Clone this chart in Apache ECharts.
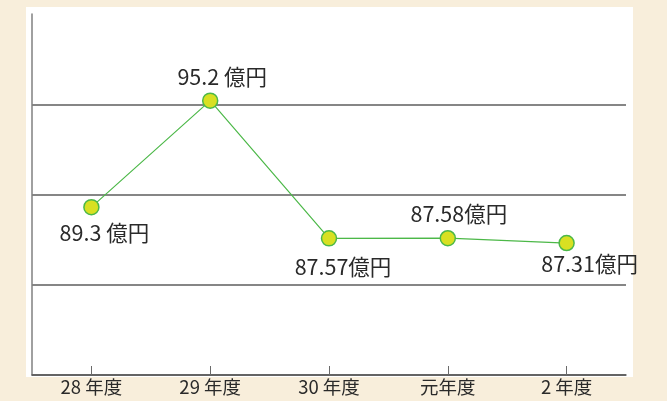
<!DOCTYPE html>
<html><head><meta charset="utf-8">
<script src="https://cdn.jsdelivr.net/npm/echarts@6/dist/echarts.min.js"></script>
<style>html,body{margin:0;padding:0;background:#f8eedb;}#c{width:667px;height:401px;}</style>
</head><body><div id="c"></div>
<script>
const categories = ['28 年度', '29 年度', '30 年度', '元年度', '2 年度'];
const values = [89.3, 95.2, 87.57, 87.58, 87.31];
const valueLabels = ['89.3 億円', '95.2 億円', '87.57億円', '87.58億円', '87.31億円'];
const yMin = 80, yMax = 100, yStep = 5;

const labelOffsets = [[13, 26], [12, -24], [14, 28], [11, -24], [23, 21]];
const font = '"Noto Sans CJK JP", "Noto Sans", sans-serif';

const chart = echarts.init(document.getElementById('c'), null, {renderer: 'canvas'});
chart.setOption({
  backgroundColor: '#f8eedb',
  animation: false,
  graphic: [{type: 'rect', z: -10, shape: {x: 26, y: 7, width: 607, height: 370}, style: {fill: '#ffffff'}}],
  grid: {left: 32, right: 41, top: 14, bottom: 26},
  xAxis: {
    type: 'category', data: categories, boundaryGap: true,
    axisLine: {lineStyle: {color: '#5a5a5a', width: 1.5}},
    axisTick: {show: true, inside: true, alignWithLabel: true, length: 9, lineStyle: {color: '#6a6a6a', width: 1}},
    axisLabel: {color: '#2a2a2a', fontSize: 18.5, fontFamily: font, margin: 3}
  },
  yAxis: {
    type: 'value', min: yMin, max: yMax, interval: yStep,
    axisLine: {show: true, lineStyle: {color: '#808080', width: 1.5}},
    axisTick: {show: false}, axisLabel: {show: false},
    splitLine: {show: true, showMaxLine: false, lineStyle: {color: '#5e5e5e', width: 1.5}}
  },
  series: [{
    type: 'line',
    data: values.map((v, i) => ({
      value: v,
      label: {show: true, formatter: valueLabels[i], position: 'inside', offset: labelOffsets[i]}
    })),
    lineStyle: {color: '#4cb848', width: 1.2},
    symbol: 'circle', symbolSize: 15,
    itemStyle: {color: '#d8e022', borderColor: '#4cb848', borderWidth: 1.5},
    label: {color: '#2a2a2a', fontSize: 21.5, fontFamily: font, align: 'center', verticalAlign: 'middle'},
    emphasis: {disabled: true}
  }]
});
</script></body></html>
